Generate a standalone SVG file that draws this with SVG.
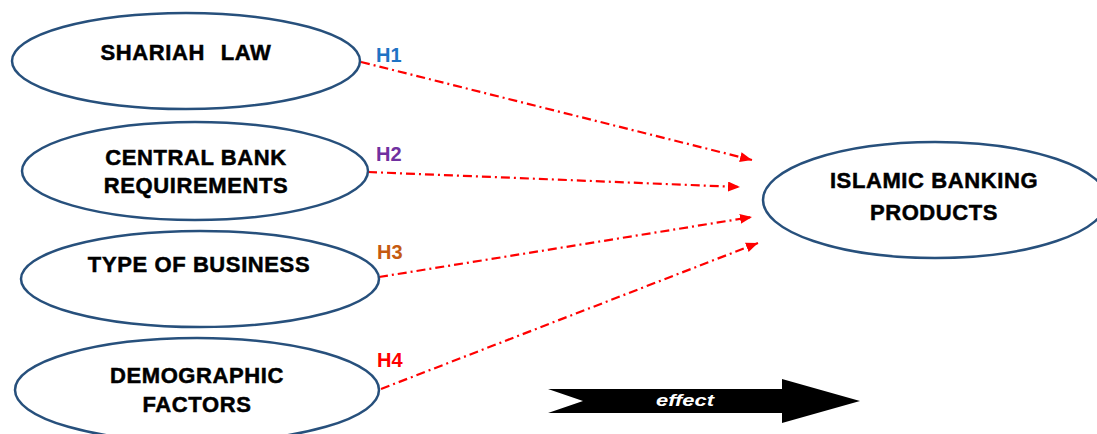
<svg xmlns="http://www.w3.org/2000/svg" width="1097" height="434" viewBox="0 0 1097 434">
<style>
.node ellipse{fill:#fff;stroke:#27507c;stroke-width:2.5}
.lbl{font-family:"Liberation Sans",Arial,sans-serif;font-weight:bold;font-size:22px;fill:#000;text-anchor:middle;letter-spacing:0.6px;stroke:#000;stroke-width:0.5}
.h{font-family:"Liberation Sans",Arial,sans-serif;font-weight:bold;font-size:20px}
.conn line{stroke:#ff0000;stroke-width:2.2;stroke-dasharray:9 4 2 4;fill:none}
</style>
<defs>
<marker id="ah" viewBox="0 0 12 10" refX="12" refY="5" markerWidth="12" markerHeight="10" markerUnits="userSpaceOnUse" orient="auto">
<path d="M0,0 L12,5 L0,10 Z" fill="#ff0000"/>
</marker>
</defs>
<rect width="1097" height="434" fill="#fff"/>
<g id="connectors" class="conn">
<line x1="361" y1="62" x2="752" y2="160" marker-end="url(#ah)"/>
<line x1="368" y1="172" x2="740" y2="187" marker-end="url(#ah)"/>
<line x1="379" y1="277" x2="752" y2="217" marker-end="url(#ah)"/>
<line x1="381" y1="389" x2="758" y2="243" marker-end="url(#ah)"/>
</g>
<g id="n1" class="node">
<ellipse cx="186" cy="61" rx="174" ry="48"/>
<text class="lbl" x="186" y="60" word-spacing="9">SHARIAH LAW</text>
</g>
<g id="n2" class="node">
<ellipse cx="195" cy="171" rx="173" ry="49"/>
<text class="lbl" x="196" y="165">CENTRAL BANK</text>
<text class="lbl" x="196" y="193">REQUIREMENTS</text>
</g>
<g id="n3" class="node">
<ellipse cx="200" cy="279" rx="179" ry="48"/>
<text class="lbl" x="199" y="272">TYPE OF BUSINESS</text>
</g>
<g id="n4" class="node">
<ellipse cx="197" cy="390" rx="182" ry="52"/>
<text class="lbl" x="197" y="383">DEMOGRAPHIC</text>
<text class="lbl" x="197" y="412">FACTORS</text>
</g>
<g id="n5" class="node">
<ellipse cx="935" cy="200" rx="172" ry="58"/>
<text class="lbl" x="934" y="188">ISLAMIC BANKING</text>
<text class="lbl" x="934" y="220">PRODUCTS</text>
</g>
<g id="labels">
<text class="h" x="376" y="62" fill="#1f73c4">H1</text>
<text class="h" x="376" y="161" fill="#7030a0">H2</text>
<text class="h" x="377" y="259" fill="#c55a11">H3</text>
<text class="h" x="377" y="367" fill="#ff0000">H4</text>
</g>
<g id="effect">
<path d="M548,389 L782,389 L782,379 L860,401 L782,423 L782,413 L548,413 L583,401 Z" fill="#000"/>
<text x="685" y="406" text-anchor="middle" font-family="Liberation Sans,Arial,sans-serif" font-weight="bold" font-style="italic" font-size="17" fill="#fff" textLength="58" lengthAdjust="spacingAndGlyphs">effect</text>
</g>
</svg>
